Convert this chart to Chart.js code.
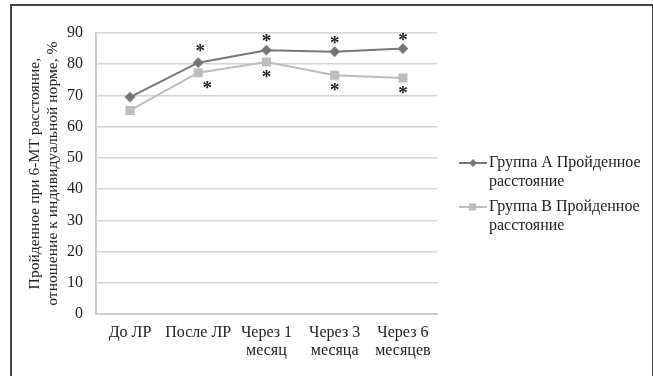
<!DOCTYPE html>
<html>
<head>
<meta charset="utf-8">
<script src="https://cdn.jsdelivr.net/npm/chart.js@4"></script>
<style>
  body { margin: 0; background: #fff; }
  #wrap { position: absolute; left: 0; top: 0; width: 653px; height: 376px; }
  #frame { position: absolute; left: 10px; top: 4px; width: 640px; height: 380px; border: 2px solid #444; }
</style>
</head>
<body>
<div id="wrap">
  <div id="frame"></div>
  <canvas id="chart" width="653" height="376"></canvas>
</div>
<script>
// Chart data
const categories = ['До ЛР', 'После ЛР', ['Через 1', 'месяц'], ['Через 3', 'месяца'], ['Через 6', 'месяцев']];
const groupA = [69.5, 80.5, 84.5, 84, 85];
const groupB = [65.2, 77.3, 80.7, 76.5, 75.6];
const groupALabel = ['Группа А Пройденное', 'расстояние'];
const groupBLabel = ['Группа В Пройденное', 'расстояние'];
// which points carry a significance star
const starsA = [false, true, true, true, true];
const starsB = [false, true, true, true, true];

const FONT = 'Liberation Serif, Times New Roman, serif';

// Stars and side legend drawn on top of the chart
const extrasPlugin = {
    id: 'extras',
    afterDatasetsDraw(chart) {
        const ctx = chart.ctx;
        ctx.save();
        ctx.fillStyle = '#222';
        ctx.font = 'bold 19px ' + FONT;
        ctx.textAlign = 'center';
        ctx.textBaseline = 'middle';
        chart.getDatasetMeta(0).data.forEach((pt, i) => {
            if (starsA[i]) ctx.fillText('*', pt.x + (i === 1 ? 2 : 0), pt.y - (i === 1 ? 11 : 8));
        });
        chart.getDatasetMeta(1).data.forEach((pt, i) => {
            if (starsB[i]) ctx.fillText('*', pt.x + (i === 1 ? 9 : 0), pt.y + 16);
        });

        // legend
        const items = [
            { text: groupALabel, color: '#777777', style: 'rectRot', y: 163 },
            { text: groupBLabel, color: '#bdbdbd', style: 'rect', y: 207 }
        ];
        ctx.font = '16px ' + FONT;
        ctx.textAlign = 'left';
        items.forEach(it => {
            ctx.strokeStyle = it.color;
            ctx.lineWidth = 2;
            ctx.beginPath();
            ctx.moveTo(459, it.y);
            ctx.lineTo(487, it.y);
            ctx.stroke();
            ctx.fillStyle = it.color;
            if (it.style === 'rect') {
                ctx.fillRect(469, it.y - 3.5, 7, 7);
            } else {
                ctx.beginPath();
                ctx.moveTo(473, it.y - 4);
                ctx.lineTo(477, it.y);
                ctx.lineTo(473, it.y + 4);
                ctx.lineTo(469, it.y);
                ctx.closePath();
                ctx.fill();
            }
            ctx.fillStyle = '#222';
            ctx.fillText(it.text[0], 489, it.y);
            ctx.fillText(it.text[1], 489, it.y + 19);
        });
        ctx.restore();
    }
};

new Chart(document.getElementById('chart'), {
    type: 'line',
    data: {
        labels: categories,
        datasets: [{
            label: groupALabel.join(' '),
            data: groupA,
            borderColor: '#777777',
            backgroundColor: '#777777',
            borderWidth: 2,
            pointStyle: 'rectRot',
            pointRadius: 4,
            pointHoverRadius: 4,
            tension: 0
        }, {
            label: groupBLabel.join(' '),
            data: groupB,
            borderColor: '#bdbdbd',
            backgroundColor: '#bdbdbd',
            borderWidth: 2,
            pointStyle: 'rect',
            pointRadius: 5,
            pointHoverRadius: 5,
            tension: 0
        }]
    },
    options: {
        responsive: false,
        animation: false,
        events: [],
        layout: { padding: { left: 26, right: 216, top: 33, bottom: 7 } },
        plugins: {
            legend: { display: false },
            tooltip: { enabled: false }
        },
        scales: {
            x: {
                offset: true,
                grid: { display: false, drawTicks: false },
                border: { color: '#cccccc', width: 2 },
                ticks: {
                    color: '#222',
                    font: { family: FONT, size: 16, lineHeight: 1.15 },
                    padding: 9,
                    maxRotation: 0,
                    autoSkip: false
                }
            },
            y: {
                min: 0,
                max: 90,
                ticks: {
                    stepSize: 10,
                    color: '#222',
                    font: { family: FONT, size: 16 },
                    padding: 13
                },
                grid: { color: '#d4d4d4', lineWidth: 1.5, drawTicks: false },
                border: { color: '#cccccc', width: 2 },
                title: {
                    display: true,
                    text: ['Пройденное при 6-МТ расстояние,', 'отношение к индивидуальной норме, %'],
                    color: '#222',
                    font: { family: FONT, size: 15.6, lineHeight: 1.15 },
                    padding: { top: 0, bottom: -8 }
                }
            }
        }
    },
    plugins: [extrasPlugin]
});
</script>
</body>
</html>
